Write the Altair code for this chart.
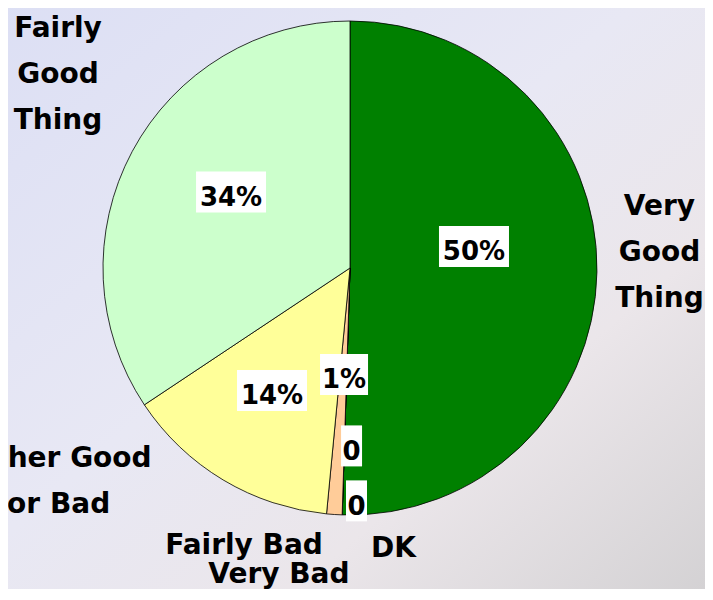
import altair as alt
import pandas as pd

# ---- data ----
categories = ["Very Good Thing", "DK", "Very Bad", "Fairly Bad",
              "Neither Good Nor Bad", "Fairly Good Thing"]
display_names = ["Very\nGood\nThing", "DK", "Very Bad", "Fairly Bad",
                 "Neither Good\nNor Bad", "Fairly\nGood\nThing"]
values = [50, 0, 0, 1, 14, 34]
pct_labels = ["50%", "0", "0", "1%", "14%", "34%"]

# ---- styling / label layout (not data) ----
colors = ["#008000", "#C0C0C0", "#FF8080", "#FFCC99", "#FFFF99", "#CCFFCC"]
pct_r = [125.9, 233, 178, 106.7, 145.2, 141.2]
pct_dx = [-1.9, 13.9, 7.2, 0.8, -3.4, 5.5]
pct_dy = [-23.5, 0, 0, 0, -2.1, -9.3]
box_w = [70, 21, 21, 48, 70, 70]
BOX_H = 41
cat_r = [314.5, 282.4, 318, 298.5, 370, 351.1]
cat_dx = [-5, 52.5, -61, -87, -113, 17.5]
cat_dy = [-66, -1, -11, -20, -126, -73]

W, H = 684, 520          # plot area -> pie centre at (342, 260)
PAD_R, PAD_B = 13, 61
CX, CY, R = W / 2, H / 2, 247
FONT = "DejaVu Sans"

df = pd.DataFrame({
    "category": categories,
    "name": display_names,
    "value": values,
    "pct": pct_labels,
    "order": list(range(len(categories))),
    "lr": pct_r, "ldx": pct_dx, "ldy": pct_dy, "bw": box_w,
    "cr": cat_r, "cdx": cat_dx, "cdy": cat_dy,
})

bg = alt.Chart(pd.DataFrame({"a": [0]})).mark_rect(
    color=alt.LinearGradient(
        gradient="linear", x1=0, y1=0, x2=1, y2=1,
        stops=[alt.GradientStop(color="#dcdff4", offset=0),
               alt.GradientStop(color="#e8e8f4", offset=0.45),
               alt.GradientStop(color="#ebe6ea", offset=0.7),
               alt.GradientStop(color="#d3d1d3", offset=1)])
).encode(x=alt.value(-8), x2=alt.value(W + PAD_R + 8),
         y=alt.value(-8), y2=alt.value(H + PAD_B + 8))

base = alt.Chart(df)

pie = base.mark_arc(radius=R, stroke="black", strokeWidth=0.8).encode(
    theta=alt.Theta("value:Q", stack=True),
    color=alt.Color("category:N", scale=alt.Scale(domain=categories, range=colors),
                    legend=None),
    order=alt.Order("order:Q"),
)

pos = (base
       .transform_joinaggregate(total="sum(value)")
       .transform_window(cum="sum(value)", sort=[alt.SortField("order")],
                         frame=[None, 0])
       .transform_calculate(mid="(datum.cum - datum.value/2) / datum.total * 2 * PI")
       .transform_calculate(
           bx=f"{CX} + datum.lr * sin(datum.mid) + datum.ldx",
           by=f"{CY} - datum.lr * cos(datum.mid) + datum.ldy",
           tx=f"{CX} + datum.cr * sin(datum.mid) + datum.cdx",
           ty=f"{CY} - datum.cr * cos(datum.mid) + datum.cdy")
       .transform_calculate(
           bx1="datum.bx - datum.bw/2", bx2="datum.bx + datum.bw/2",
           by1=f"datum.by - {BOX_H/2}", by2=f"datum.by + {BOX_H/2}",
           pty="datum.by + 6"))

boxes = pos.mark_rect(color="white").encode(
    x=alt.X("bx1:Q", scale=None), x2="bx2:Q",
    y=alt.Y("by1:Q", scale=None), y2="by2:Q")

pct_text = pos.mark_text(font=FONT, fontWeight="bold", fontSize=26,
                         color="black", align="center", baseline="middle").encode(
    x=alt.X("bx:Q", scale=None), y=alt.Y("pty:Q", scale=None), text="pct:N")

cat_text = pos.mark_text(font=FONT, fontWeight="bold", fontSize=28,
                         color="black", align="center", baseline="middle",
                         lineBreak="\n", lineHeight=46).encode(
    x=alt.X("tx:Q", scale=None), y=alt.Y("ty:Q", scale=None), text="name:N")

chart = alt.layer(bg, pie, boxes, pct_text, cat_text).properties(
    width=W, height=H,
    autosize=alt.AutoSizeParams(type="none"),
    padding={"left": 0, "top": 0, "right": PAD_R, "bottom": PAD_B},
).configure_view(stroke=None)

chart.save("out.html", embed_options={"renderer": "svg", "actions": False})
